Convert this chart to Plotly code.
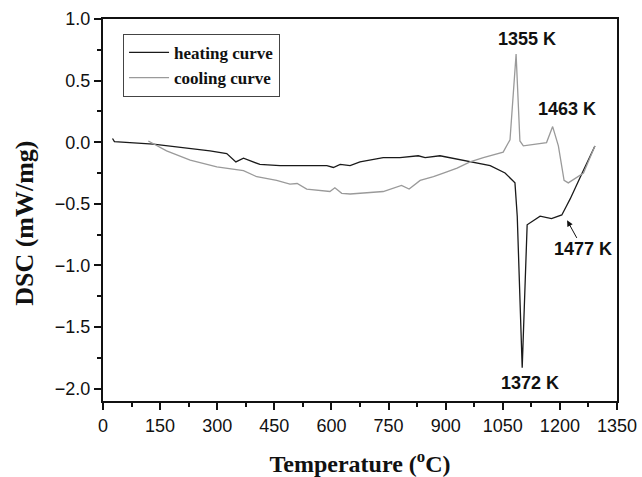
import plotly.graph_objects as go

# Heating curve (°C, mW/mg)
heat_T = [25, 30, 132, 246, 281, 325, 349, 369, 412, 465, 544, 588, 605, 623, 649, 675,
          736, 780, 828, 846, 885, 964, 1017, 1056, 1082, 1088, 1101, 1114, 1148, 1178,
          1205, 1217, 1227, 1257, 1292]
heat_v = [0.03, 0.005, -0.016, -0.057, -0.07, -0.092, -0.16, -0.13, -0.18, -0.19, -0.19,
          -0.19, -0.205, -0.18, -0.19, -0.16, -0.125, -0.125, -0.11, -0.125, -0.11, -0.16,
          -0.19, -0.25, -0.33, -0.6, -1.83, -0.67, -0.6, -0.62, -0.59, -0.52, -0.46,
          -0.26, -0.03]

# Cooling curve
cool_T = [119, 167, 229, 299, 369, 404, 456, 491, 510, 535, 596, 609, 627, 649, 693, 736,
          784, 804, 833, 868, 894, 930, 964, 999, 1051, 1069, 1085, 1095, 1104, 1165, 1181,
          1196, 1211, 1222, 1262, 1292]
cool_v = [0.01, -0.07, -0.146, -0.2, -0.23, -0.28, -0.31, -0.34, -0.335, -0.38, -0.40,
          -0.37, -0.415, -0.42, -0.41, -0.40, -0.35, -0.38, -0.31, -0.28, -0.25, -0.21,
          -0.16, -0.125, -0.08, 0.02, 0.715, 0.01, -0.03, -0.003, 0.127, -0.03, -0.31,
          -0.33, -0.25, -0.03]

x_ticks = [0, 150, 300, 450, 600, 750, 900, 1050, 1200, 1350]
y_ticks = [1.0, 0.5, 0.0, -0.5, -1.0, -1.5, -2.0]

peak_labels = ["1355 K", "1463 K", "1372 K"]
peak_T = [1114, 1219, 1122]
peak_v = [0.837, 0.268, -1.95]

fig = go.Figure()
fig.add_trace(go.Scatter(x=heat_T, y=heat_v, mode="lines", name="heating curve",
                         line=dict(color="#1a1a1a", width=1.3)))
fig.add_trace(go.Scatter(x=cool_T, y=cool_v, mode="lines", name="cooling curve",
                         line=dict(color="#9a9a9a", width=1.3)))

for t, xx, yy in zip(peak_labels, peak_T, peak_v):
    fig.add_annotation(x=xx, y=yy, text=t, showarrow=False,
                       font=dict(family="Liberation Sans", size=18, color="#111", weight="bold"))

fig.add_annotation(x=1219, y=-0.634, ax=1261, ay=-0.87, axref="x", ayref="y",
                   text="1477 K", showarrow=True, arrowhead=2, arrowsize=1.2,
                   arrowwidth=1, arrowcolor="#111",
                   font=dict(family="Liberation Sans", size=18, color="#111", weight="bold"))

# y-axis title placed slightly below centre, as in the reference
fig.add_annotation(xref="paper", yref="paper", x=-0.152, y=0.466, text="DSC (mW/mg)",
                   textangle=-90, showarrow=False, xanchor="center", yanchor="middle",
                   font=dict(family="Liberation Serif", size=26, color="#111", weight="bold"))

axis_common = dict(showline=True, linecolor="#111", linewidth=2, mirror=True,
                   ticks="outside", ticklen=7, tickwidth=1.5, tickcolor="#111",
                   showgrid=False, zeroline=False, automargin=False,
                   tickfont=dict(family="Liberation Sans", size=18, color="#111"))

fig.update_xaxes(range=[0, 1350], tickvals=x_ticks, **axis_common,
                 minor=dict(ticks="outside", ticklen=4, dtick=75, tick0=0, tickcolor="#111"),
                 title=dict(text="Temperature (<sup>o</sup>C)", standoff=28,
                            font=dict(family="Liberation Serif", size=24, color="#111",
                                      weight="bold")))
fig.update_yaxes(range=[-2.1, 1.0], tickvals=y_ticks, tickformat=".1f", **axis_common,
                 minor=dict(ticks="outside", ticklen=4, dtick=0.25, tick0=0, tickcolor="#111"))

fig.update_layout(
    width=642, height=477,
    margin=dict(l=103, r=25, t=19, b=76),
    paper_bgcolor="white", plot_bgcolor="white",
    legend=dict(x=0.039, y=0.961, xanchor="left", yanchor="top",
                bordercolor="#444", borderwidth=1, bgcolor="white",
                tracegroupgap=0, itemwidth=40,
                font=dict(family="Liberation Serif", size=17, color="#111", weight="bold")),
)

fig.write_html("out.html")
